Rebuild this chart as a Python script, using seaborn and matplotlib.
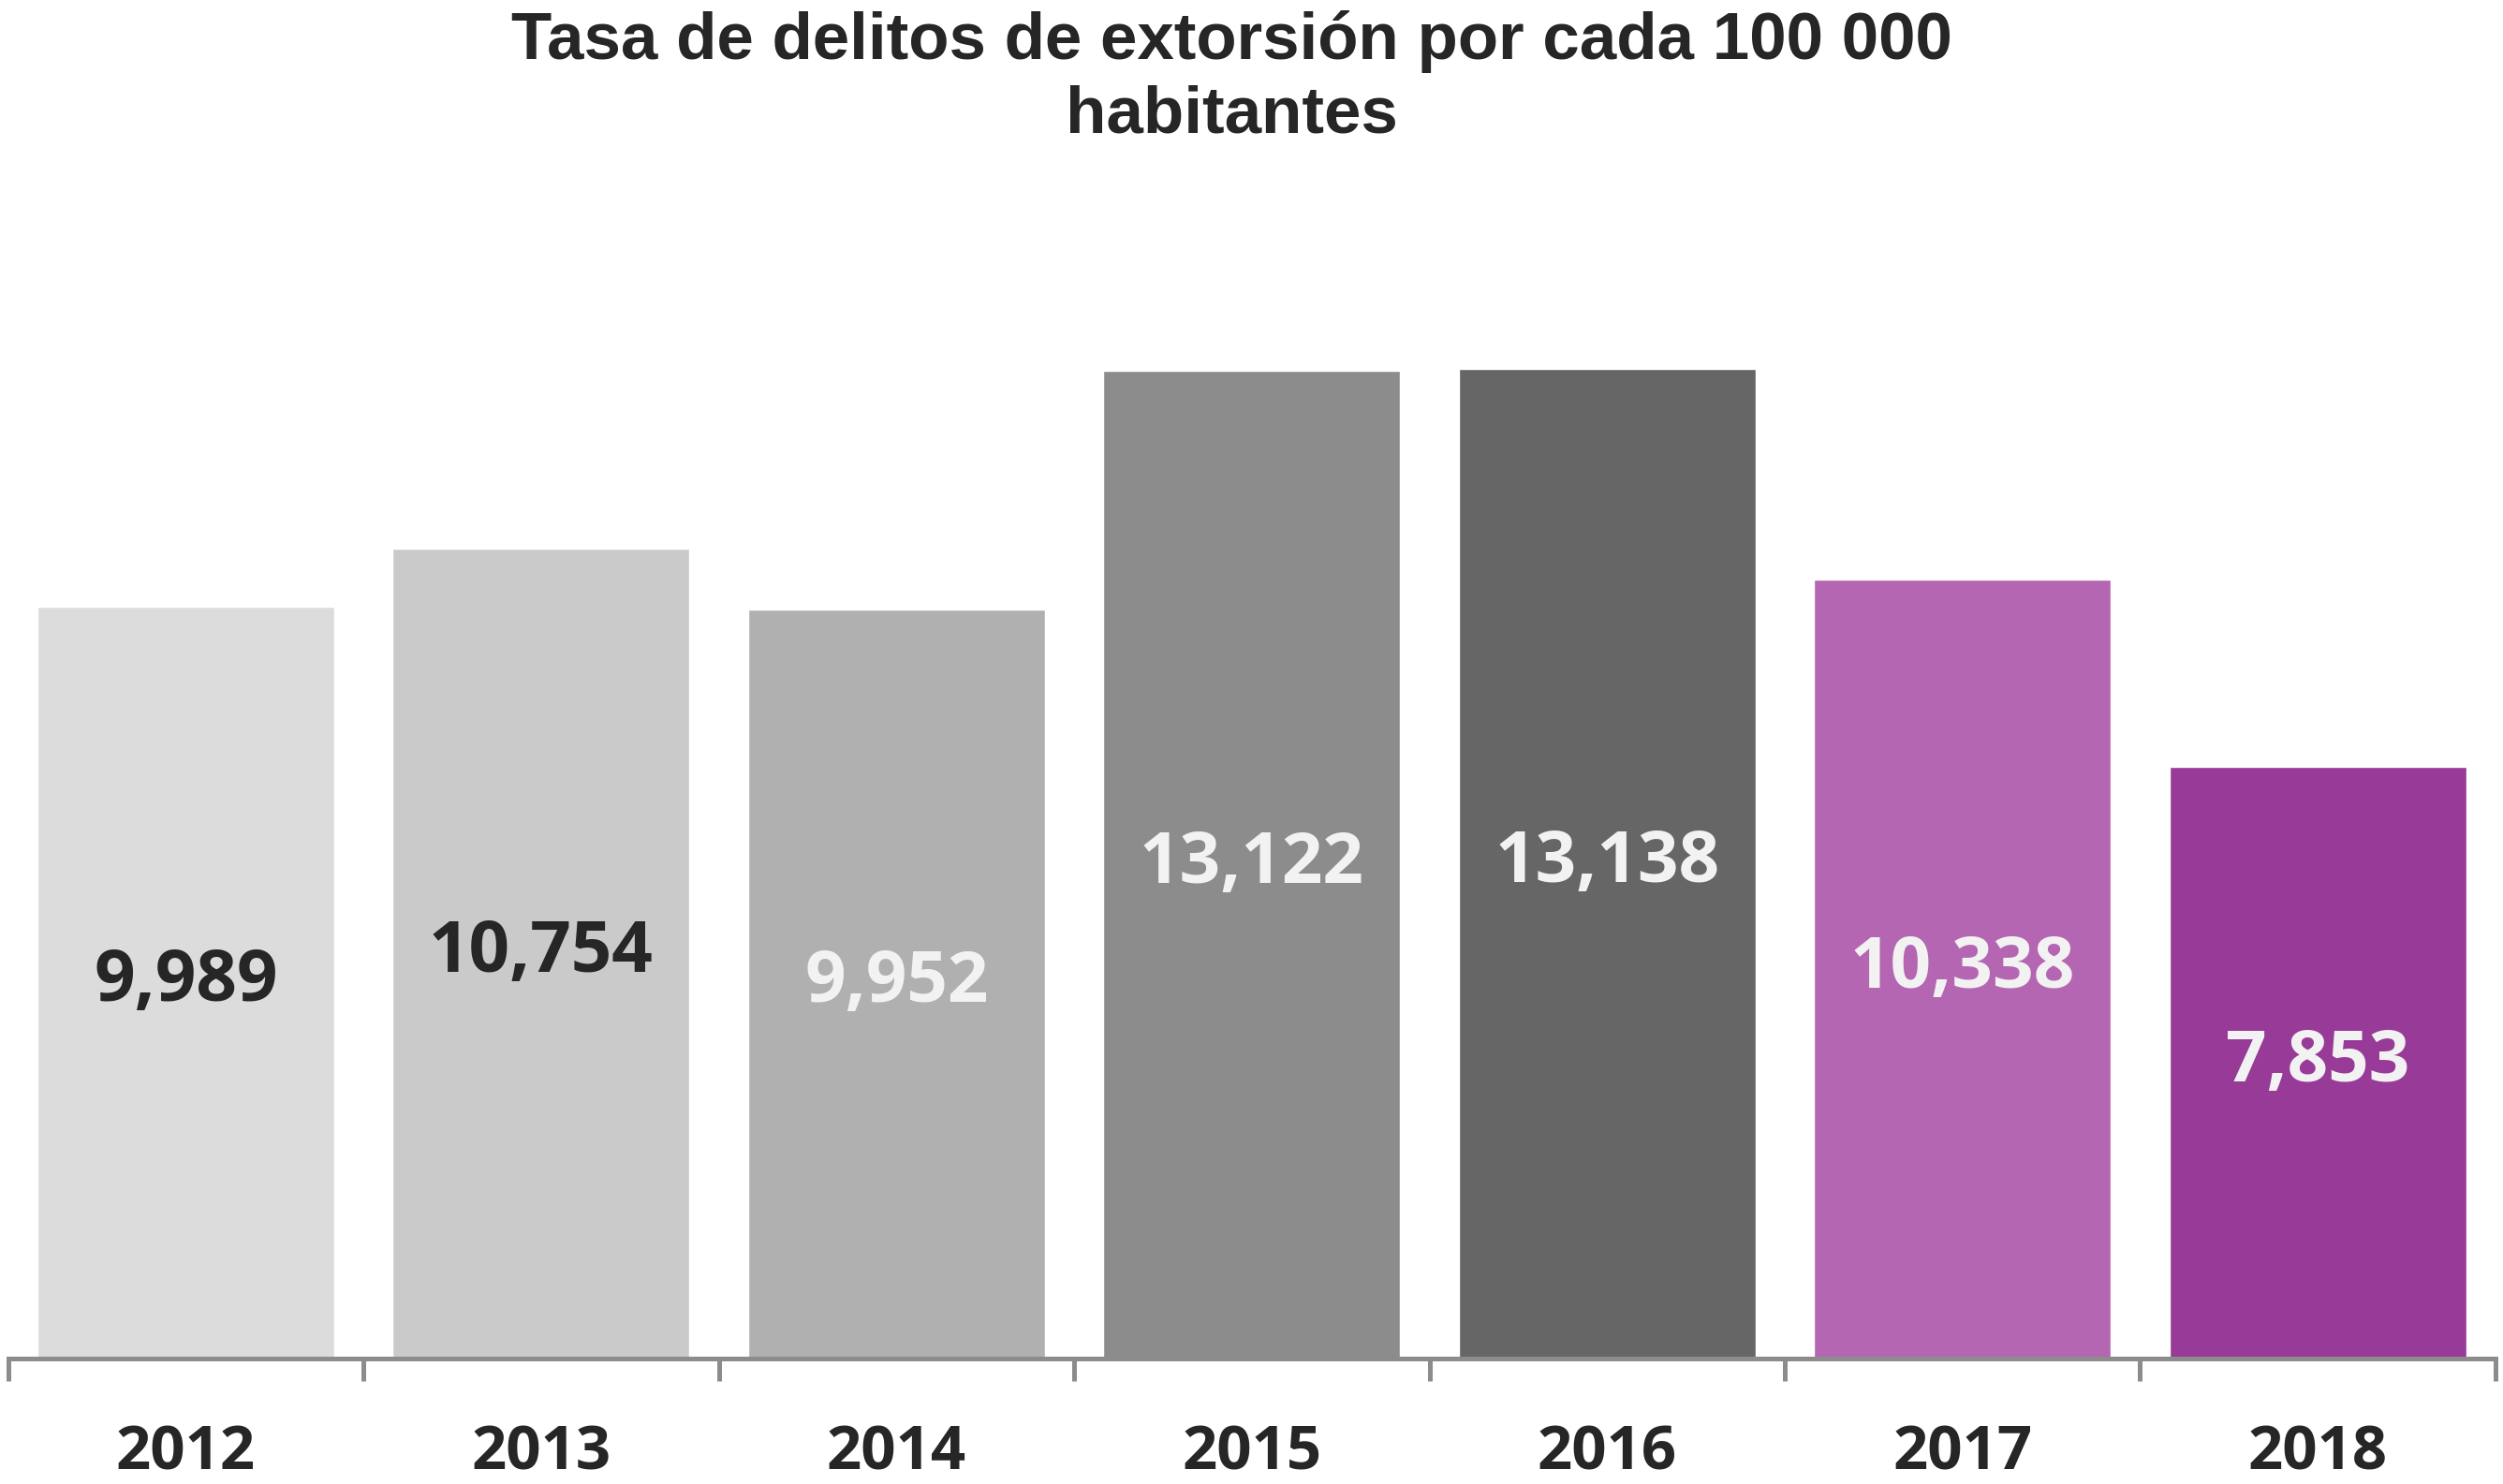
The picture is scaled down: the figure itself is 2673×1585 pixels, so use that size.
import matplotlib as mpl
mpl.use('Agg')
import matplotlib.pyplot as plt
import seaborn as sns
import pandas as pd

# data
years = ['2012', '2013', '2014', '2015', '2016', '2017', '2018']
rates = [9989, 10754, 9952, 13122, 13138, 10338, 7853]
labels = ['9,989', '10,754', '9,952', '13,122', '13,138', '10,338', '7,853']
bar_colors = ['#dcdcdc', '#cacaca', '#b0b0b0', '#8c8c8c', '#666666', '#b466b2', '#983a98']
label_colors = ['#262626', '#262626', '#f2f2f2', '#f2f2f2', '#f2f2f2', '#f2f2f2', '#f2f2f2']

sns.set_style('white')
plt.rcParams['font.family'] = ['Open Sans', 'DejaVu Sans']

df = pd.DataFrame({'year': years, 'rate': rates})

fig = plt.figure(figsize=(26.73, 15.85), dpi=100)
ax = fig.add_axes([0.0032, 0.0845, 0.9938, 0.812])

sns.barplot(data=df, x='year', y='rate', hue='year', palette=bar_colors,
            legend=False, width=0.835, saturation=1, ax=ax)

ax.set_ylim(0, 16000)
ax.set_xlim(-0.5, len(years) - 0.5)

# value labels in the middle of each bar
for i, (v, lab) in enumerate(zip(rates, labels)):
    ax.text(i, v / 2, lab, ha='center', va='center', fontsize=55,
            fontweight='bold', color=label_colors[i])

for s in ['left', 'right', 'top']:
    ax.spines[s].set_visible(False)
ax.spines['bottom'].set_color('#8c8c8c')
ax.spines['bottom'].set_linewidth(3.6)

ax.set_yticks([])
ax.set_xticks([i - 0.5 for i in range(len(years) + 1)])
ax.set_xticklabels([])
ax.tick_params(axis='x', which='major', bottom=True, length=17, width=3.6,
               color='#8c8c8c', direction='out')
ax.set_xticks(range(len(years)), minor=True)
ax.set_xticklabels(years, minor=True, fontsize=47, fontweight='bold', color='#262626')
ax.tick_params(axis='x', which='minor', bottom=True, length=0, pad=50)
ax.set_xlabel('')
ax.set_ylabel('')

fig.text(0.492, 0.993, 'Tasa de delitos de extorsión por cada 100 000\nhabitantes',
         ha='center', va='top', fontsize=51, fontweight='bold', color='#262626',
         family=['Liberation Sans', 'DejaVu Sans'], linespacing=1.25)

fig.savefig('out.png', dpi=100)
